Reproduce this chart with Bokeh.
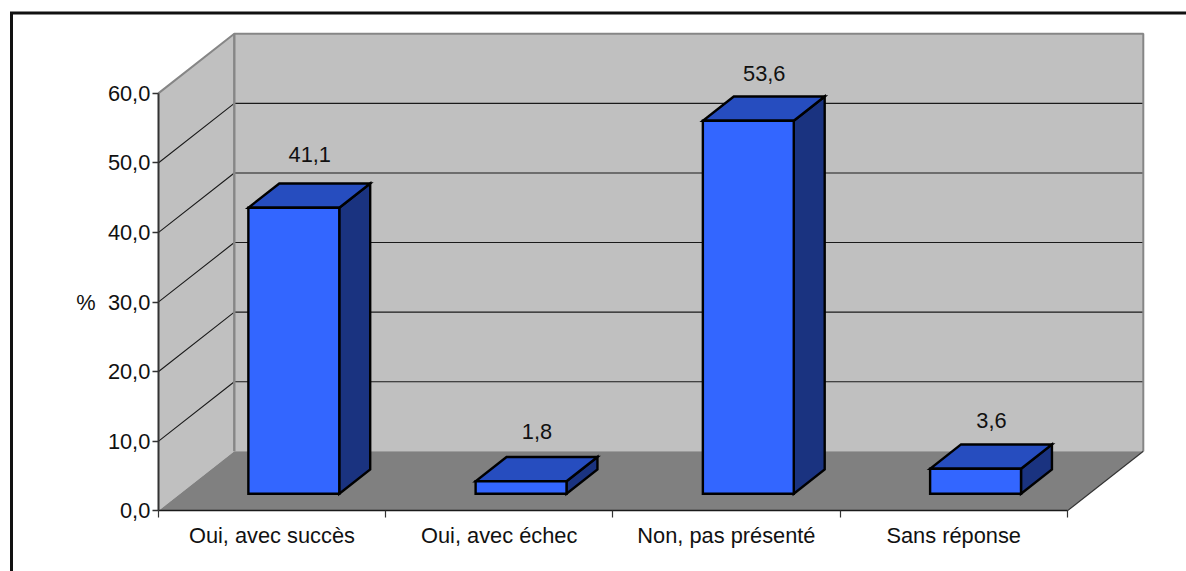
from bokeh.core.properties import value
from bokeh.embed import file_html
from bokeh.models import FixedTicker, LinearAxis, Range1d
from bokeh.plotting import figure
from bokeh.resources import INLINE

categories = ["Oui, avec succès", "Oui, avec échec", "Non, pas présenté", "Sans réponse"]
percentages = [41.1, 1.8, 53.6, 3.6]
percentage_labels = ["41,1", "1,8", "53,6", "3,6"]
y_ticks = [0, 10, 20, 30, 40, 50, 60]
y_tick_labels = ["0,0", "10,0", "20,0", "30,0", "40,0", "50,0", "60,0"]
y_title = "%"

W, H = 1186, 571
FONT = "Liberation Sans"
FONT_SIZE = "21.8px"
INK = "#111111"

# Pixel placement of the plot box front plane
X0, CAT_PX = 157.8, 227.25
Y0, UNIT_PX = 510.4, 417.5 / 60

# Oblique depth of the box, expressed in axis units
DEPTH_X = 76.0 / CAT_PX
DEPTH_Y = 59.6 / UNIT_PX

BAR_LEFT, BAR_WIDTH = 0.30, 0.40
BAR_NEAR, BAR_FAR = 0.288, 0.695


def px_x(px):
    return (px - X0) / CAT_PX


def px_y(py):
    return (Y0 - py) / UNIT_PX


def project(x, v, d):
    """Place a point of the box at depth d (0 = front, 1 = back wall)."""
    return x + d * DEPTH_X, v + d * DEPTH_Y


def polygon(points):
    xs, ys = zip(*[project(*pt) for pt in points])
    return list(xs), list(ys)


p = figure(
    width=W, height=H, output_backend="svg", toolbar_location=None,
    x_range=Range1d(px_x(0), px_x(W)), y_range=Range1d(px_y(H), px_y(0)),
    x_axis_location=None, y_axis_location=None,
    min_border=0, outline_line_color=None, background_fill_color="white",
    border_fill_color="white",
)
p.grid.visible = False

n = len(categories)
top = y_ticks[-1]

# Walls and floor of the box
WALL, FLOOR, EDGE = "#C0C0C0", "#808080", "#868686"
xs, ys = polygon([(0, 0, 1), (n, 0, 1), (n, top, 1), (0, top, 1)])
p.patch(xs, ys, fill_color=WALL, line_color=None)
xs, ys = polygon([(0, 0, 0), (0, 0, 1), (0, top, 1), (0, top, 0)])
p.patch(xs, ys, fill_color=WALL, line_color=None)
xs, ys = polygon([(0, 0, 0), (n, 0, 0), (n, 0, 1), (0, 0, 1)])
p.patch(xs, ys, fill_color=FLOOR, line_color=None)

# Grid lines across the side and back walls
for tick in y_ticks[1:-1]:
    xs, ys = polygon([(0, tick, 0), (0, tick, 1), (n, tick, 1)])
    p.line(xs, ys, line_color="#1a1a1a", line_width=1.1)

# Outline of the walls
xs, ys = polygon([(0, top, 0), (0, top, 1), (n, top, 1), (n, 0, 1)])
p.line(xs, ys, line_color=EDGE, line_width=2)
xs, ys = polygon([(0, 0, 1), (0, top, 1)])
p.line(xs, ys, line_color=EDGE, line_width=2.4)
xs, ys = polygon([(n, 0, 0), (n, 0, 1)])
p.line(xs, ys, line_color="#333333", line_width=1.2)

# Bars: side, top, then front face
FRONT, TOP, SIDE = "#3366FF", "#264DBF", "#1A3380"
for i, v in enumerate(percentages):
    left = i + BAR_LEFT
    right = left + BAR_WIDTH
    faces = [
        ([(right, 0, BAR_NEAR), (right, 0, BAR_FAR), (right, v, BAR_FAR), (right, v, BAR_NEAR)], SIDE),
        ([(left, v, BAR_NEAR), (right, v, BAR_NEAR), (right, v, BAR_FAR), (left, v, BAR_FAR)], TOP),
        ([(left, 0, BAR_NEAR), (right, 0, BAR_NEAR), (right, v, BAR_NEAR), (left, v, BAR_NEAR)], FRONT),
    ]
    for corners, colour in faces:
        xs, ys = polygon(corners)
        p.patch(xs, ys, fill_color=colour, line_color="black", line_width=2.4, line_join="miter")

# Value labels above each bar
label_x = [i + BAR_LEFT + BAR_WIDTH / 2 + BAR_FAR * DEPTH_X for i in range(n)]
label_y = [v + BAR_FAR * DEPTH_Y for v in percentages]
label_gap = [29, 25, 23, 24]
p.text(
    label_x, label_y, text=percentage_labels, x_offset=[-15] * n, y_offset=[-g for g in label_gap],
    text_font=value(FONT), text_font_size=FONT_SIZE, text_color=INK,
    text_align="center", text_baseline="middle",
)

# Value axis on the front left edge
y_axis = LinearAxis(
    fixed_location=0, bounds=(0, top), ticker=FixedTicker(ticks=y_ticks),
    major_label_overrides={t: s for t, s in zip(y_ticks, y_tick_labels)},
    axis_line_color="#333333", axis_line_width=2,
    major_tick_line_color="#333333", major_tick_line_width=1.5,
    major_tick_out=6, major_tick_in=0, minor_tick_line_color=None,
    major_label_standoff=2, major_label_text_font=FONT,
    major_label_text_font_size=FONT_SIZE, major_label_text_color=INK,
)
p.add_layout(y_axis, "left")

# Category axis: names centred between the boundary ticks
centres = [i + 0.5 for i in range(n)]
x_axis = LinearAxis(
    fixed_location=0, bounds=(0, n),
    ticker=FixedTicker(ticks=centres, minor_ticks=list(range(n + 1))),
    major_label_overrides={c: s for c, s in zip(centres, categories)},
    axis_line_color="#1a1a1a", axis_line_width=1.6,
    major_tick_line_color=None, major_tick_out=0, major_tick_in=0,
    minor_tick_line_color="#333333", minor_tick_line_width=1.2,
    minor_tick_out=7, minor_tick_in=0,
    major_label_standoff=5, major_label_text_font=FONT,
    major_label_text_font_size=FONT_SIZE, major_label_text_color=INK,
)
p.add_layout(x_axis, "below")

p.text(
    [px_x(85.5)], [px_y(302)], text=[y_title], text_font=value(FONT),
    text_font_size=FONT_SIZE, text_color=INK, text_align="center", text_baseline="middle",
)

# Border of the chart area
p.line([px_x(11), px_x(11), px_x(W)], [px_y(H), px_y(12.5), px_y(12.5)],
       line_color="#111111", line_width=3, line_join="miter")

open("out.html", "w").write(file_html(p, INLINE))
